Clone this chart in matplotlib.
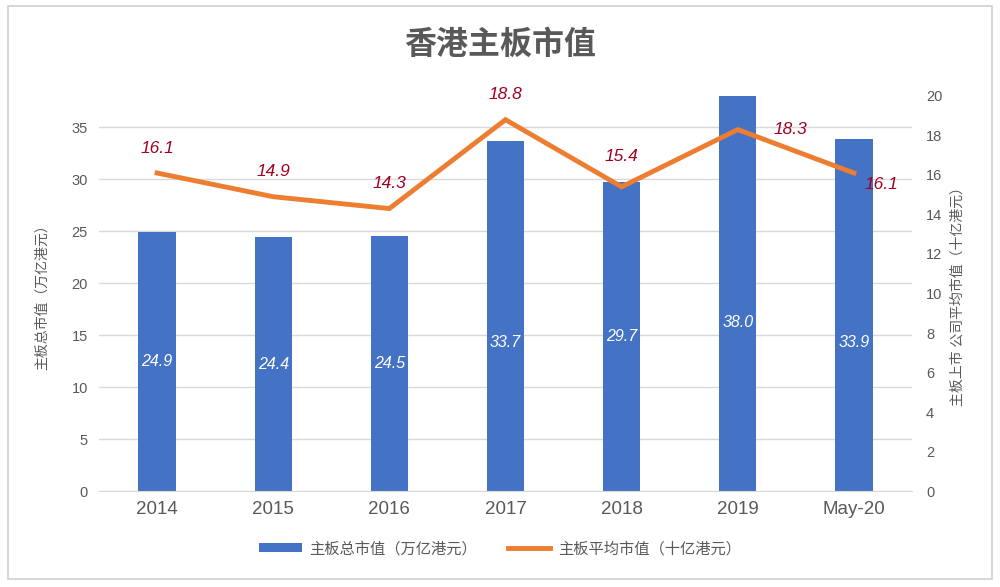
import matplotlib
matplotlib.use("Agg")
import matplotlib.pyplot as plt
from matplotlib.patches import Rectangle

plt.rcParams['font.family'] = ['Liberation Sans', 'Noto Sans CJK SC', 'DejaVu Sans']

# ---------------------------
# Data
# ---------------------------
categories = ['2014', '2015', '2016', '2017', '2018', '2019', 'May-20']
total_cap = [24.9, 24.4, 24.5, 33.7, 29.7, 38.0, 33.9]      # 万亿港元
avg_cap = [16.1, 14.9, 14.3, 18.8, 15.4, 18.3, 16.1]        # 十亿港元

title = '香港主板市值'
left_label = '主板总市值（万亿港元）'
right_label = '主板上市 公司平均市值（十亿港元）'
bar_name = '主板总市值（万亿港元）'
line_name = '主板平均市值（十亿港元）'

# label placement tweaks (bar label height, line label offsets in points)
bar_label_y = [None, None, None, 14.3, None, 16.2, 14.3]
line_label_off = [(0, 18), (0, 18), (0, 18), (0, 18), (0, 22), (38, 0), (20, -8)]

BLUE = '#4472C4'
ORANGE = '#ED7D31'
RED = '#A00020'
GREY = '#595959'

fig = plt.figure(figsize=(10, 5.87), dpi=100)
fig.patches.append(Rectangle((0.008, 0.014), 0.984, 0.976, transform=fig.transFigure,
                             fill=False, edgecolor='#D0D0D0', linewidth=1.2))

ax = fig.add_axes([0.099, 0.1635, 0.813, 0.673])
x = list(range(len(categories)))
bars = ax.bar(x, total_cap, width=0.32, color=BLUE, zorder=2, label=bar_name)
ax.set_xlim(-0.5, len(categories) - 0.5)
ax.set_ylim(0, 38)
ax.set_yticks(range(0, 36, 5))
ax.set_xticks(x)
ax.set_xticklabels(categories, fontsize=13.5, color=GREY)
ax.tick_params(axis='y', labelsize=10.5, labelcolor=GREY, length=0, pad=8)
ax.tick_params(axis='x', length=0, pad=7)
ax.grid(axis='y', color='#D9D9D9', linewidth=1, zorder=0)
for s in ['top', 'right', 'left']:
    ax.spines[s].set_visible(False)
ax.spines['bottom'].set_color('#D9D9D9')
ax.set_ylabel(left_label, fontsize=10, color=GREY, labelpad=16)

for i, v in enumerate(total_cap):
    yy = bar_label_y[i] if bar_label_y[i] is not None else v / 2
    ax.text(i, yy, f'{v:.1f}', color='white', ha='center', va='center',
            fontsize=11.5, style='italic', zorder=4)

ax2 = ax.twinx()
line, = ax2.plot(x, avg_cap, color=ORANGE, linewidth=3.5, zorder=3, label=line_name,
                 solid_joinstyle='miter')
ax2.set_ylim(0, 19.9)
ax2.set_yticks(range(0, 21, 2))
ax2.tick_params(axis='y', labelsize=10.5, labelcolor=GREY, length=0, pad=10)
for s in ['top', 'right', 'left', 'bottom']:
    ax2.spines[s].set_visible(False)
ax2.set_ylabel(right_label, fontsize=10, color=GREY, labelpad=6)

for i, v in enumerate(avg_cap):
    dx, dy = line_label_off[i]
    ax2.annotate(f'{v:.1f}', (i, v), xytext=(dx, dy), textcoords='offset points',
                 ha='center', va='center', color=RED, fontsize=12.5, style='italic')

fig.text(0.5, 0.922, title, ha='center', va='center', fontsize=23, color=GREY,
         fontweight='bold')

fig.legend([bars, line], [bar_name, line_name], loc='center', bbox_to_anchor=(0.5, 0.065),
           ncol=2, frameon=False, fontsize=11, handlelength=2.8, handleheight=0.5,
           handletextpad=0.5, columnspacing=2.0, labelcolor=GREY)

fig.savefig('out.png', dpi=100)
